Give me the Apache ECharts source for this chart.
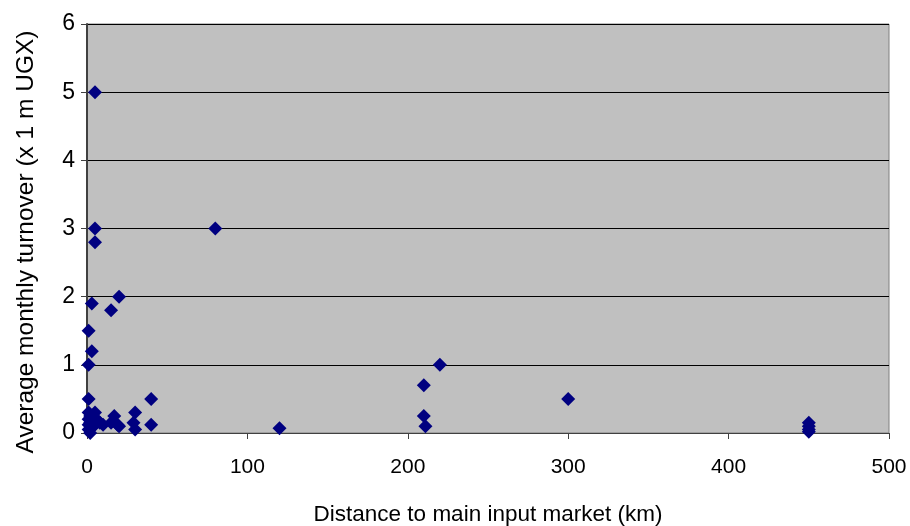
<!DOCTYPE html>
<html>
<head>
<meta charset="utf-8">
<script src="https://cdn.jsdelivr.net/npm/echarts@6/dist/echarts.min.js"></script>
<style>
  html, body { margin: 0; padding: 0; background: #fff; }
  #chart { width: 910px; height: 526px; }
</style>
</head>
<body>
<div id="chart"></div>
<script>
// distance to main input market (km) and average monthly turnover (x 1 m UGX)
const distanceKm = [
  1, 2, 1, 3, 2, 1, 4, 3, 1, 2, 5, 6, 5, 8, 10,
  17, 15, 20, 19, 30, 29, 30, 40, 40, 1,
  1, 3, 1, 3, 15, 20, 5, 5, 5, 80,
  120, 220, 210, 210, 211, 300, 450, 450, 450, 450
];
const turnover = [
  0.3, 0.25, 0.2, 0.2, 0.15, 0.12, 0.1, 0.08, 0.05, 0, 0.3, 0.2, 0.15, 0.15, 0.12,
  0.25, 0.15, 0.1, 0.12, 0.3, 0.15, 0.05, 0.12, 0.5, 0.5,
  1.0, 1.2, 1.5, 1.9, 1.8, 2.0, 2.8, 3.0, 5.0, 3.0,
  0.07, 1.0, 0.7, 0.25, 0.1, 0.5, 0.15, 0.1, 0.05, 0.02
];
const xTitle = 'Distance to main input market (km)';
const yTitle = 'Average monthly turnover (x 1 m UGX)';

const points = distanceKm.map((d, i) => [d, turnover[i]]);

const chart = echarts.init(document.getElementById('chart'));
const font = 'Liberation Sans, Arial, sans-serif';

const option = {
  backgroundColor: '#ffffff',
  animation: false,
  grid: {
    left: 87, right: 21, top: 24, bottom: 93,
    outerBoundsMode: 'none',
    containLabel: false,
    show: true,
    backgroundColor: '#C0C0C0',
    borderColor: '#808080',
    borderWidth: 1
  },
  // y title placed by hand, it sits a bit below the plot centre
  graphic: [{
    type: 'text',
    x: 26, y: 242,
    rotation: Math.PI / 2,
    style: {
      text: yTitle,
      fill: '#000',
      font: '24.5px ' + font,
      align: 'center',
      verticalAlign: 'middle'
    }
  }],
  xAxis: {
    type: 'value',
    min: 0, max: 500, interval: 100,
    name: xTitle,
    nameLocation: 'middle',
    nameGap: 70,
    nameTextStyle: { color: '#000', fontSize: 22.5, fontFamily: font },
    axisLine: { show: true, onZero: false, lineStyle: { color: '#404040', width: 1 } },
    axisTick: { show: true, inside: false, length: 6, lineStyle: { color: '#404040' } },
    axisLabel: { color: '#000', fontSize: 21, fontFamily: font, margin: 24 },
    splitLine: { show: false }
  },
  yAxis: {
    type: 'value',
    min: 0, max: 6, interval: 1,
    axisLine: { show: true, onZero: false, lineStyle: { color: '#404040', width: 2 } },
    axisTick: { show: true, inside: false, length: 6, lineStyle: { color: '#404040' } },
    axisLabel: { color: '#000', fontSize: 23, fontFamily: font, margin: 12 },
    splitLine: { show: true, lineStyle: { color: '#000000', width: 1 } }
  },
  series: [{
    type: 'scatter',
    data: points,
    symbol: 'diamond',
    symbolSize: 14,
    itemStyle: { color: '#000080', opacity: 1 }
  }]
};

chart.setOption(option);
</script>
</body>
</html>
